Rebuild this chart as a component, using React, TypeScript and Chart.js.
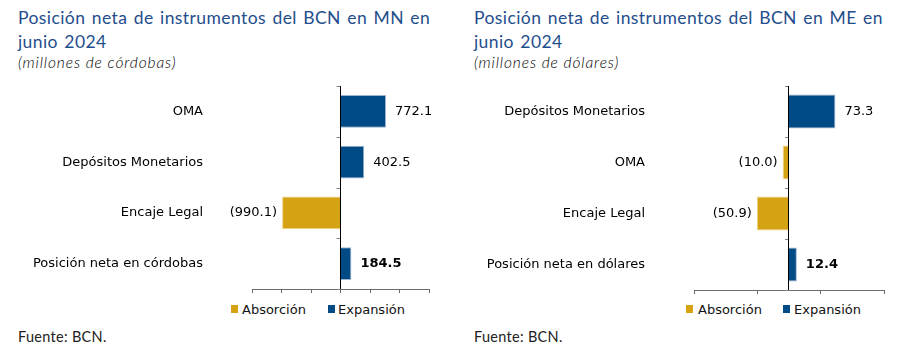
import React, { useEffect, useRef } from "react";
import { Chart, registerables } from "chart.js";

Chart.register(...registerables);

// ---------- Data ----------
const mnCategories = ["OMA", "Depósitos Monetarios", "Encaje Legal", "Posición neta en córdobas"];
const mnValues = [772.1, 402.5, -990.1, 184.5];
const mnMin = -1500;
const mnMax = 1500;
const mnStep = 500;

const meCategories = ["Depósitos Monetarios", "OMA", "Encaje Legal", "Posición neta en dólares"];
const meValues = [73.3, -10.0, -50.9, 12.4];
const meMin = -150;
const meMax = 150;
const meStep = 100;

const seriesNames = ["Absorción", "Expansión"];

const mnTitle = "Posición neta de instrumentos del BCN en MN en junio 2024";
const mnSubtitle = "(millones de córdobas)";
const meTitle = "Posición neta de instrumentos del BCN en ME en junio 2024";
const meSubtitle = "(millones de dólares)";
const sourceText = "Fuente: BCN.";

// ---------- Styles ----------
const GOLD = "#D5A213";
const GOLD_BORDER = "#F0D48A";
const BLUE = "#004A86";
const BLUE_BORDER = "#9DB2CC";
const TITLE_COLOR = "#1F4E8C";
const AXIS_COLOR = "#6b6b6b";
const LABEL_FONT = "DejaVu Sans";
const TITLE_FONT = "Lato";

function fmt(v: number): string {
  const s = Math.abs(v).toFixed(1);
  return v < 0 ? `(${s})` : s;
}

const zeroAxisPlugin = {
  id: "zeroAxis",
  afterDatasetsDraw(chart: any) {
    const { ctx, chartArea, scales } = chart;
    const xs = scales.x;
    const ys = scales.y;
    const x0 = xs.getPixelForValue(0);
    const n = chart.data.labels.length;
    ctx.save();
    // category boundary ticks
    ctx.strokeStyle = "#808080";
    ctx.lineWidth = 1;
    for (let i = 0; i <= n; i++) {
      const y = Math.round(ys.getPixelForValue(i - 0.5)) + 0.5;
      ctx.beginPath();
      ctx.moveTo(x0 - 4, y);
      ctx.lineTo(x0, y);
      ctx.stroke();
    }
    // zero line
    ctx.strokeStyle = "#000";
    const xx = Math.round(x0) - 0.5;
    ctx.beginPath();
    ctx.moveTo(xx, chartArea.top);
    ctx.lineTo(xx, chartArea.bottom);
    ctx.stroke();
    // data labels
    const neg = chart.data.datasets[0].data;
    const pos = chart.data.datasets[1].data;
    ctx.fillStyle = "#000";
    ctx.textBaseline = "middle";
    for (let i = 0; i < n; i++) {
      const v = neg[i] != null ? neg[i] : pos[i];
      if (v == null) continue;
      const bold = i === n - 1;
      ctx.font = `${bold ? "bold " : ""}13px "${LABEL_FONT}"`;
      const x = xs.getPixelForValue(v);
      const y = ys.getPixelForValue(i);
      if (v < 0) {
        ctx.textAlign = "right";
        ctx.fillText(fmt(v), x - 5, y);
      } else {
        ctx.textAlign = "left";
        ctx.fillText(fmt(v), x + 9, y);
      }
    }
    ctx.restore();
  },
};

type PanelProps = {
  categories: string[];
  values: number[];
  min: number;
  max: number;
  step: number;
  width: number;
  padLeft: number;
  padRight: number;
  padBottom: number;
  barPct: number;
};

function BarChart(p: PanelProps) {
  const ref = useRef<HTMLCanvasElement | null>(null);
  useEffect(() => {
    if (!ref.current) return;
    const negData = p.values.map((v) => (v < 0 ? v : null));
    const posData = p.values.map((v) => (v >= 0 ? v : null));
    const chart = new Chart(ref.current, {
      type: "bar",
      data: {
        labels: p.categories,
        datasets: [
          {
            label: seriesNames[0],
            data: negData,
            backgroundColor: GOLD,
            borderColor: GOLD_BORDER,
            borderWidth: 1,
            barPercentage: p.barPct,
            categoryPercentage: 1,
          },
          {
            label: seriesNames[1],
            data: posData,
            backgroundColor: BLUE,
            borderColor: BLUE_BORDER,
            borderWidth: 1,
            barPercentage: p.barPct,
            categoryPercentage: 1,
          },
        ],
      },
      options: {
        indexAxis: "y",
        responsive: false,
        animation: false,
        events: [],
        layout: { padding: { left: p.padLeft, right: p.padRight, top: 86, bottom: p.padBottom } },
        plugins: { legend: { display: false }, tooltip: { enabled: false }, title: { display: false } },
        scales: {
          x: {
            type: "linear",
            min: p.min,
            max: p.max,
            stacked: true,
            ticks: { display: false, stepSize: p.step },
            grid: { drawOnChartArea: false, drawTicks: true, tickLength: 4, color: AXIS_COLOR },
            border: { display: true, color: AXIS_COLOR, width: 1 },
            afterFit: (s: any) => {
              s.paddingLeft = 0;
              s.paddingRight = 0;
            },
          },
          y: {
            type: "category",
            stacked: true,
            grid: { display: false },
            border: { display: false },
            ticks: { padding: 41, color: "#000", font: { family: LABEL_FONT, size: 13 } },
            afterFit: (s: any) => {
              s.width = 240;
              s.paddingTop = 0;
              s.paddingBottom = 0;
            },
          },
        },
      } as any,
      plugins: [zeroAxisPlugin],
    });
    return () => chart.destroy();
  }, []);
  return (
    <canvas
      ref={ref}
      width={p.width}
      height={300}
      style={{ position: "absolute", left: 0, top: 0, width: p.width, height: 300, display: "block" }}
    />
  );
}

type LegendPos = { sq1: number; tx1: number; sq2: number; tx2: number };

function Legend({ pos }: { pos: LegendPos }) {
  const text: React.CSSProperties = {
    position: "absolute",
    top: 301.5,
    fontFamily: LABEL_FONT,
    fontSize: 13,
    lineHeight: "15px",
    color: "#111",
    whiteSpace: "nowrap",
  };
  const sq: React.CSSProperties = { position: "absolute", top: 305, width: 7, height: 8 };
  return (
    <>
      <div style={{ ...sq, left: pos.sq1, background: GOLD }} />
      <div style={{ ...text, left: pos.tx1 }}>{seriesNames[0]}</div>
      <div style={{ ...sq, left: pos.sq2, background: BLUE }} />
      <div style={{ ...text, left: pos.tx2 }}>{seriesNames[1]}</div>
    </>
  );
}

function Header({ title, subtitle, left }: { title: string; subtitle: string; left: number }) {
  return (
    <>
      <div
        style={{
          position: "absolute",
          left,
          top: 6,
          width: 432,
          fontFamily: TITLE_FONT,
          fontSize: 17.5,
          lineHeight: "24px",
          color: TITLE_COLOR,
          letterSpacing: 0.42,
          wordSpacing: 1.5,
        }}
      >
        {title}
      </div>
      <div
        style={{
          position: "absolute",
          left,
          top: 53,
          fontFamily: TITLE_FONT,
          fontSize: 15.5,
          fontWeight: 300,
          lineHeight: "18px",
          fontStyle: "italic",
          color: "#000",
          whiteSpace: "nowrap",
          letterSpacing: 0.9,
        }}
      >
        {subtitle}
      </div>
    </>
  );
}

function Source({ left }: { left: number }) {
  return (
    <div
      style={{
        position: "absolute",
        left,
        top: 328,
        fontFamily: TITLE_FONT,
        fontSize: 14.5,
        lineHeight: "18px",
        color: "#222",
        whiteSpace: "nowrap",
        letterSpacing: 0.3,
      }}
    >
      {sourceText}
    </div>
  );
}

export default function App() {
  return (
    <div
      style={{
        position: "fixed",
        left: 0,
        top: 0,
        width: 907,
        height: 355,
        background: "#fff",
        overflow: "hidden",
      }}
    >
      <div style={{ position: "absolute", left: 0, top: 0, width: 450, height: 355 }}>
        <Header title={mnTitle} subtitle={mnSubtitle} left={18} />
        <BarChart
          categories={mnCategories}
          values={mnValues}
          min={mnMin}
          max={mnMax}
          step={mnStep}
          width={450}
          padLeft={12}
          padRight={21}
          padBottom={7}
          barPct={0.65}
        />
        <Legend pos={{ sq1: 231, tx1: 242, sq2: 328, tx2: 338 }} />
        <Source left={18} />
      </div>
      <div style={{ position: "absolute", left: 450, top: 0, width: 457, height: 355 }}>
        <Header title={meTitle} subtitle={meSubtitle} left={24} />
        <BarChart
          categories={meCategories}
          values={meValues}
          min={meMin}
          max={meMax}
          step={meStep}
          width={457}
          padLeft={4}
          padRight={23}
          padBottom={6}
          barPct={0.67}
        />
        <Legend pos={{ sq1: 236, tx1: 248, sq2: 333, tx2: 344 }} />
        <Source left={24} />
      </div>
    </div>
  );
}
